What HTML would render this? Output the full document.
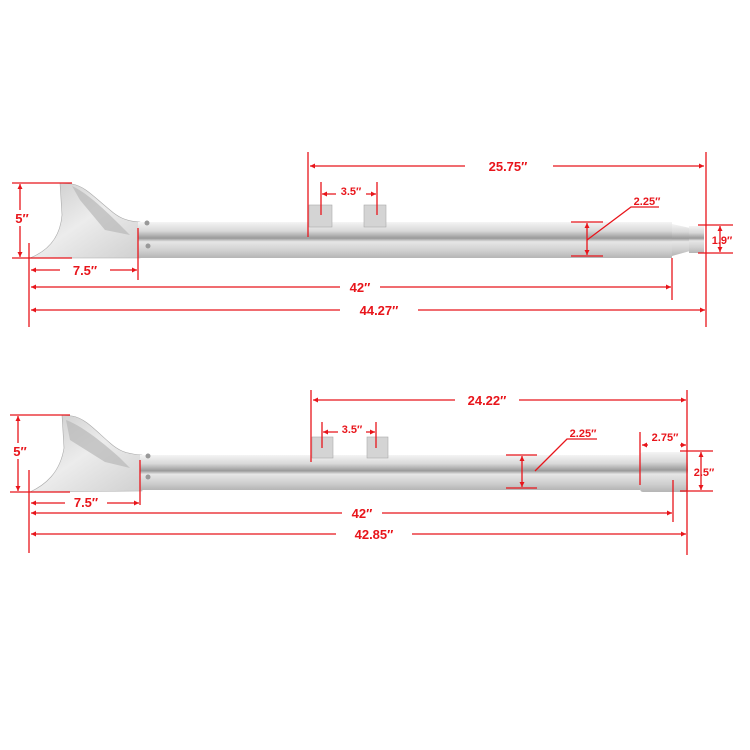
<!DOCTYPE html>
<html><head><style>body{margin:0;background:#fff}svg{display:block}text{font-family:"Liberation Sans",sans-serif;font-weight:bold;fill:#e8151b}</style></head>
<body>
<svg width="750" height="750" viewBox="0 0 750 750" xmlns="http://www.w3.org/2000/svg">
<defs>
<marker id="a" viewBox="0 0 10 10" refX="10" refY="5" markerWidth="7" markerHeight="5" orient="auto-start-reverse" markerUnits="userSpaceOnUse"><path d="M0,0L10,5L0,10z" fill="#e8151b"/></marker>
<linearGradient id="g" x1="0" y1="0" x2="0" y2="1">
<stop offset="0" stop-color="#f4f4f4"/><stop offset="0.25" stop-color="#d8d8d8"/><stop offset="0.45" stop-color="#9a9a9a"/><stop offset="0.55" stop-color="#e6e6e6"/><stop offset="0.8" stop-color="#cfcfcf"/><stop offset="1" stop-color="#b5b5b5"/></linearGradient>
<linearGradient id="f" x1="0" y1="0" x2="1" y2="1">
<stop offset="0" stop-color="#c8c8c8"/><stop offset="0.5" stop-color="#ececec"/><stop offset="1" stop-color="#d0d0d0"/></linearGradient>
</defs>

<!-- TOP PIPE -->
<path d="M60,183 L72,184 C85,186 95,198 110,210 C118,217 125,221 140,222 L140,258 L30,258 C45,252 60,240 62,215 Z" fill="url(#f)" stroke="#aaa" stroke-width="0.6"/>
<path d="M72,186 C85,192 100,205 120,225 L130,235 L105,230 L80,200 Z" fill="#b8b8b8" opacity="0.7"/>
<rect x="138" y="222" width="534" height="36" fill="url(#g)"/>
<path d="M672,224 L690,228 L690,251 L672,256 Z" fill="url(#g)"/>
<rect x="689" y="226" width="15" height="27" fill="url(#g)"/>
<rect x="309" y="205" width="23" height="22" fill="#d4d4d4" stroke="#aaa" stroke-width="0.6"/>
<rect x="364" y="205" width="22" height="22" fill="#d4d4d4" stroke="#aaa" stroke-width="0.6"/>
<circle cx="147" cy="223" r="2.5" fill="#999"/><circle cx="148" cy="246" r="2.5" fill="#999"/>

<g stroke="#e8151b" stroke-width="1.3" fill="none">
<line x1="308" y1="152" x2="308" y2="237"/><line x1="706" y1="152" x2="706" y2="327"/>
<line x1="310" y1="166" x2="704" y2="166" marker-start="url(#a)" marker-end="url(#a)"/>
<line x1="321" y1="182" x2="321" y2="215"/><line x1="377" y1="182" x2="377" y2="215"/>
<line x1="322" y1="194" x2="376" y2="194" marker-start="url(#a)" marker-end="url(#a)"/>
<line x1="571" y1="222" x2="603" y2="222"/><line x1="571" y1="256" x2="603" y2="256"/>
<line x1="587" y1="223" x2="587" y2="255" marker-start="url(#a)" marker-end="url(#a)"/>
<polyline points="587,240 631,207 659,207"/>
<line x1="698" y1="225" x2="733" y2="225"/><line x1="698" y1="253" x2="733" y2="253"/>
<line x1="720" y1="226" x2="720" y2="252" marker-start="url(#a)" marker-end="url(#a)"/>
<line x1="12" y1="183" x2="72" y2="183"/><line x1="12" y1="258" x2="72" y2="258"/>
<line x1="20" y1="184" x2="20" y2="257" marker-start="url(#a)" marker-end="url(#a)"/>
<line x1="29" y1="243" x2="29" y2="327"/><line x1="138" y1="228" x2="138" y2="280"/>
<line x1="31" y1="270" x2="137" y2="270" marker-start="url(#a)" marker-end="url(#a)"/>
<line x1="672" y1="258" x2="672" y2="300"/>
<line x1="31" y1="287" x2="671" y2="287" marker-start="url(#a)" marker-end="url(#a)"/>
<line x1="31" y1="310" x2="705" y2="310" marker-start="url(#a)" marker-end="url(#a)"/>
</g>
<g font-size="13" text-anchor="middle">
<rect x="465" y="158" width="88" height="16" fill="#fff"/><text x="508" y="171">25.75″</text>
<rect x="336" y="186" width="30" height="12" fill="#fff"/><text x="351" y="195" font-size="11">3.5″</text>
<text x="647" y="205" font-size="11">2.25″</text>
<text x="722" y="244" font-size="11">1.9″</text>
<rect x="10" y="210" width="22" height="16" fill="#fff"/><text x="22" y="223">5″</text>
<rect x="60" y="262" width="50" height="16" fill="#fff"/><text x="85" y="275">7.5″</text>
<rect x="340" y="279" width="40" height="16" fill="#fff"/><text x="360" y="292">42″</text>
<rect x="340" y="302" width="78" height="16" fill="#fff"/><text x="379" y="315">44.27″</text>
</g>

<!-- BOTTOM PIPE -->
<path d="M62,415 L72,416 C85,418 95,430 110,443 C118,450 125,454 142,455 L142,491 L30,492 C45,485 60,473 64,448 Z" fill="url(#f)" stroke="#aaa" stroke-width="0.6"/>
<path d="M66,420 C80,425 100,440 120,458 L130,468 L105,462 L70,440 Z" fill="#b8b8b8" opacity="0.7"/>
<rect x="140" y="455" width="500" height="35" fill="url(#g)"/>
<rect x="640" y="452" width="48" height="40" rx="3" fill="url(#g)"/>
<rect x="312" y="437" width="21" height="21" fill="#d4d4d4" stroke="#aaa" stroke-width="0.6"/>
<rect x="367" y="437" width="21" height="21" fill="#d4d4d4" stroke="#aaa" stroke-width="0.6"/>
<circle cx="148" cy="456" r="2.5" fill="#999"/><circle cx="148" cy="477" r="2.5" fill="#999"/>

<g stroke="#e8151b" stroke-width="1.3" fill="none">
<line x1="311" y1="390" x2="311" y2="462"/><line x1="687" y1="390" x2="687" y2="555"/>
<line x1="313" y1="400" x2="686" y2="400" marker-start="url(#a)" marker-end="url(#a)"/>
<line x1="322" y1="422" x2="322" y2="448"/><line x1="376" y1="422" x2="376" y2="448"/>
<line x1="323" y1="432" x2="375" y2="432" marker-start="url(#a)" marker-end="url(#a)"/>
<line x1="506" y1="455" x2="537" y2="455"/><line x1="506" y1="488" x2="537" y2="488"/>
<line x1="522" y1="456" x2="522" y2="487" marker-start="url(#a)" marker-end="url(#a)"/>
<polyline points="535,471 567,439 597,439"/>
<line x1="640" y1="432" x2="640" y2="485"/>
<line x1="642" y1="445" x2="686" y2="445" marker-start="url(#a)" marker-end="url(#a)"/>
<line x1="680" y1="451" x2="713" y2="451"/><line x1="680" y1="491" x2="713" y2="491"/>
<line x1="701" y1="452" x2="701" y2="490" marker-start="url(#a)" marker-end="url(#a)"/>
<line x1="673" y1="480" x2="673" y2="522"/>
<line x1="10" y1="415" x2="70" y2="415"/><line x1="10" y1="492" x2="70" y2="492"/>
<line x1="18" y1="416" x2="18" y2="491" marker-start="url(#a)" marker-end="url(#a)"/>
<line x1="29" y1="470" x2="29" y2="553"/><line x1="140" y1="460" x2="140" y2="505"/>
<line x1="31" y1="503" x2="139" y2="503" marker-start="url(#a)" marker-end="url(#a)"/>
<line x1="31" y1="513" x2="672" y2="513" marker-start="url(#a)" marker-end="url(#a)"/>
<line x1="31" y1="534" x2="686" y2="534" marker-start="url(#a)" marker-end="url(#a)"/>
</g>
<g font-size="13" text-anchor="middle">
<rect x="455" y="392" width="64" height="16" fill="#fff"/><text x="487" y="405">24.22″</text>
<rect x="338" y="424" width="28" height="12" fill="#fff"/><text x="352" y="433" font-size="11">3.5″</text>
<text x="583" y="437" font-size="11">2.25″</text>
<rect x="648" y="438" width="32" height="12" fill="#fff"/><text x="665" y="441" font-size="11">2.75″</text>
<text x="704" y="476" font-size="11">2.5″</text>
<rect x="8" y="443" width="24" height="16" fill="#fff"/><text x="20" y="456">5″</text>
<rect x="65" y="495" width="42" height="16" fill="#fff"/><text x="86" y="507">7.5″</text>
<rect x="342" y="505" width="40" height="16" fill="#fff"/><text x="362" y="518">42″</text>
<rect x="336" y="526" width="76" height="16" fill="#fff"/><text x="374" y="539">42.85″</text>
</g>
</svg>
</body></html>
